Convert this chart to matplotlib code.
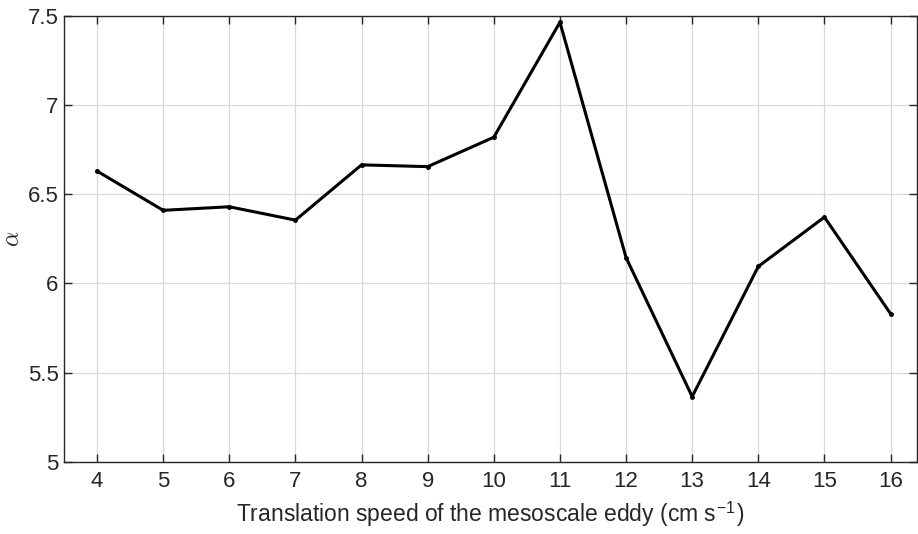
import matplotlib

matplotlib.use("Agg")
import matplotlib.pyplot as plt

# translation speed (cm/s) vs alpha
speed = [4, 5, 6, 7, 8, 9, 10, 11, 12, 13, 14, 15, 16]
alpha = [6.63, 6.41, 6.43, 6.355, 6.665, 6.655, 6.82, 7.465, 6.145, 5.365, 6.095, 6.372, 5.83]
xticks = list(range(4, 17))
yticks = [5, 5.5, 6, 6.5, 7, 7.5]
ytick_labels = ["5", "5.5", "6", "6.5", "7", "7.5"]

plt.rcParams["font.family"] = ["Liberation Sans", "DejaVu Sans"]
plt.rcParams["mathtext.fontset"] = "cm"

fig = plt.figure(figsize=(9.18, 5.34), dpi=100)
ax = fig.add_axes([64 / 918, 1 - 461.7 / 534, (917 - 64) / 918, (461.7 - 16) / 534])

ax.plot(speed, alpha, color="black", linewidth=2.2, marker="o", markersize=2.5, zorder=3)

ax.set_xlim(3.5, 16.4)
ax.set_ylim(5, 7.5)
ax.set_xticks(xticks)
ax.set_yticks(yticks)
ax.set_yticklabels(ytick_labels)
ax.tick_params(direction="in", length=6, width=1, colors="#262626", labelsize=16,
               top=True, right=True, labeltop=False, labelright=False, pad=7)
ax.tick_params(axis="y", pad=4)
for s in ax.spines.values():
    s.set_color("#262626")
    s.set_linewidth(1)
ax.grid(True, color="#d9d9d9", linewidth=0.9)
ax.set_axisbelow(True)

ax.set_xlabel("Translation speed of the mesoscale eddy (cm s$^{\\mathregular{-1}}$)", fontsize=16.5, color="#262626", labelpad=5)
ax.set_ylabel(r"$\alpha$", fontsize=17, color="#262626")
ax.yaxis.set_label_coords(-0.047, 0.5)

fig.savefig("out.png", dpi=100)
